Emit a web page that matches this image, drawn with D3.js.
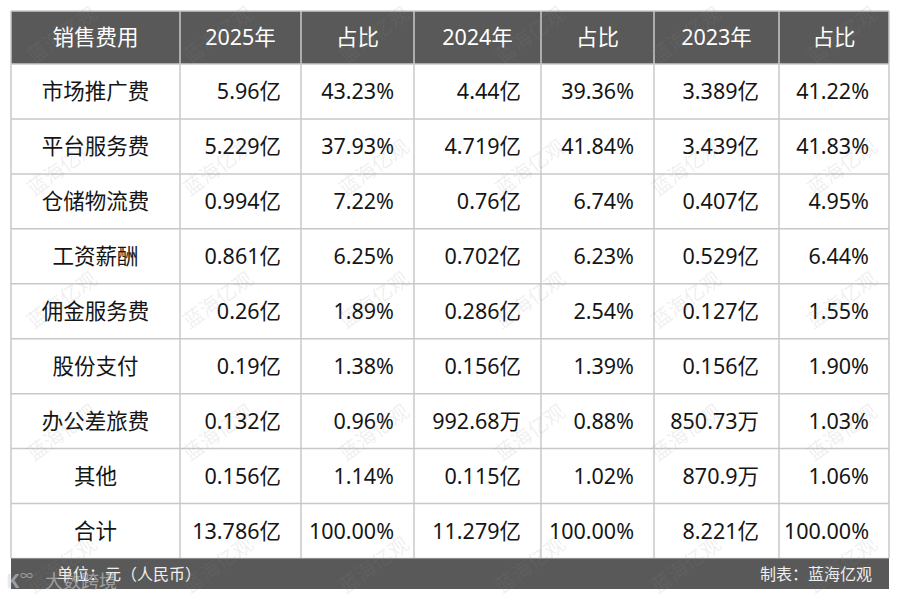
<!DOCTYPE html>
<html>
<head>
<meta charset="utf-8">
<script src="https://cdn.jsdelivr.net/npm/d3@7/dist/d3.min.js"></script>
<style>
  html, body { margin: 0; padding: 0; background: #fff; }
  svg { display: block; font-family: "Noto Sans", "Noto Sans CJK SC", sans-serif; }
</style>
</head>
<body>
<svg id="chart" width="900" height="600"></svg>
<script>
// ---- data ----
const headers = ["销售费用", "2025年", "占比", "2024年", "占比", "2023年", "占比"];
const categories = ["市场推广费", "平台服务费", "仓储物流费", "工资薪酬", "佣金服务费", "股份支付", "办公差旅费", "其他", "合计"];
const amount2025 = ["5.96亿", "5.229亿", "0.994亿", "0.861亿", "0.26亿", "0.19亿", "0.132亿", "0.156亿", "13.786亿"];
const share2025  = ["43.23%", "37.93%", "7.22%", "6.25%", "1.89%", "1.38%", "0.96%", "1.14%", "100.00%"];
const amount2024 = ["4.44亿", "4.719亿", "0.76亿", "0.702亿", "0.286亿", "0.156亿", "992.68万", "0.115亿", "11.279亿"];
const share2024  = ["39.36%", "41.84%", "6.74%", "6.23%", "2.54%", "1.39%", "0.88%", "1.02%", "100.00%"];
const amount2023 = ["3.389亿", "3.439亿", "0.407亿", "0.529亿", "0.127亿", "0.156亿", "850.73万", "870.9万", "8.221亿"];
const share2023  = ["41.22%", "41.83%", "4.95%", "6.44%", "1.55%", "1.90%", "1.03%", "1.06%", "100.00%"];
const footLeft = "单位：元（人民币）";
const footRight = "制表：蓝海亿观";
const watermark = "蓝海亿观";
const logoText = "大数跨境";

const columns = [categories, amount2025, share2025, amount2024, share2024, amount2023, share2023];

// ---- layout ----
const svg = d3.select("#chart");
const L = { left: 11, right: 889, top: 11, headBottom: 64, bodyBottom: 558.5, footBottom: 589 };
const colEdges = [11, 180, 301, 414, 541, 654, 779, 889];
const pad = 20;
const fontSize = 21.5;

const yScale = d3.scaleBand().domain(categories).range([L.headBottom, L.bodyBottom]);

// header background
svg.append("rect").attr("x", L.left).attr("y", L.top)
  .attr("width", L.right - L.left).attr("height", L.headBottom - L.top).attr("fill", "#595959");

// header text
svg.append("g").selectAll("text").data(headers).join("text")
  .attr("x", (d, i) => (colEdges[i] + colEdges[i + 1]) / 2)
  .attr("y", (L.top + L.headBottom) / 2)
  .attr("dy", "0.36em")
  .attr("text-anchor", "middle")
  .attr("fill", "#ffffff")
  .attr("font-size", fontSize)
  .text(d => d);

// grid lines
const grid = svg.append("g").attr("stroke", "#c8c8c8").attr("stroke-width", 1.5);
categories.forEach(c => {
  const yy = yScale(c) + yScale.bandwidth();
  grid.append("line").attr("x1", L.left).attr("x2", L.right).attr("y1", yy).attr("y2", yy);
});
grid.append("line").attr("x1", L.left).attr("x2", L.right).attr("y1", L.headBottom).attr("y2", L.headBottom);
colEdges.forEach(x => {
  grid.append("line").attr("x1", x).attr("x2", x).attr("y1", L.top).attr("y2", L.bodyBottom);
});
grid.append("line").attr("x1", L.left).attr("x2", L.right).attr("y1", L.top).attr("y2", L.top);

// body text
columns.forEach((col, ci) => {
  svg.append("g").selectAll("text").data(col).join("text")
    .attr("x", ci === 0 ? (colEdges[0] + colEdges[1]) / 2 : colEdges[ci + 1] - pad)
    .attr("y", (d, i) => yScale(categories[i]) + yScale.bandwidth() / 2)
    .attr("dy", "0.36em")
    .attr("text-anchor", ci === 0 ? "middle" : "end")
    .attr("fill", "#151515")
    .attr("font-size", fontSize)
    .text(d => d);
});

// footer
svg.append("rect").attr("x", L.left).attr("y", L.bodyBottom)
  .attr("width", L.right - L.left).attr("height", L.footBottom - L.bodyBottom).attr("fill", "#595959");
svg.append("text").attr("x", 57).attr("y", (L.bodyBottom + L.footBottom) / 2).attr("dy", "0.36em")
  .attr("fill", "#f0f0f0").attr("font-size", 16).text(footLeft);
svg.append("text").attr("x", 872).attr("y", (L.bodyBottom + L.footBottom) / 2).attr("dy", "0.36em")
  .attr("text-anchor", "end").attr("fill", "#f0f0f0").attr("font-size", 16).text(footRight);

// watermarks
const wm = svg.append("g").attr("pointer-events", "none");
for (let r = 0; r < 5; r++) {
  for (let c = 0; c < 6; c++) {
    const cx = 62 + c * 156, cy = 35 + r * 132.5;
    wm.append("text")
      .attr("transform", `translate(${cx},${cy}) rotate(-36)`)
      .attr("text-anchor", "middle").attr("dy", "0.36em")
      .attr("font-size", 20)
      .attr("fill", "#8a8a8a").attr("fill-opacity", 0.14)
      .text(watermark);
  }
}

// bottom-left logo watermark
const logo = svg.append("g").attr("opacity", 0.55);
logo.append("text").attr("x", 6).attr("y", 588).attr("font-size", 20)
  .attr("fill", "#d8d8d8").attr("font-weight", "bold").text("K");
logo.append("text").attr("x", 20).attr("y", 580).attr("font-size", 13)
  .attr("fill", "#d8d8d8").text("∞");
logo.append("text").attr("x", 45).attr("y", 588).attr("font-size", 18)
  .attr("fill", "#d8d8d8").text(logoText);
</script>
</body>
</html>
